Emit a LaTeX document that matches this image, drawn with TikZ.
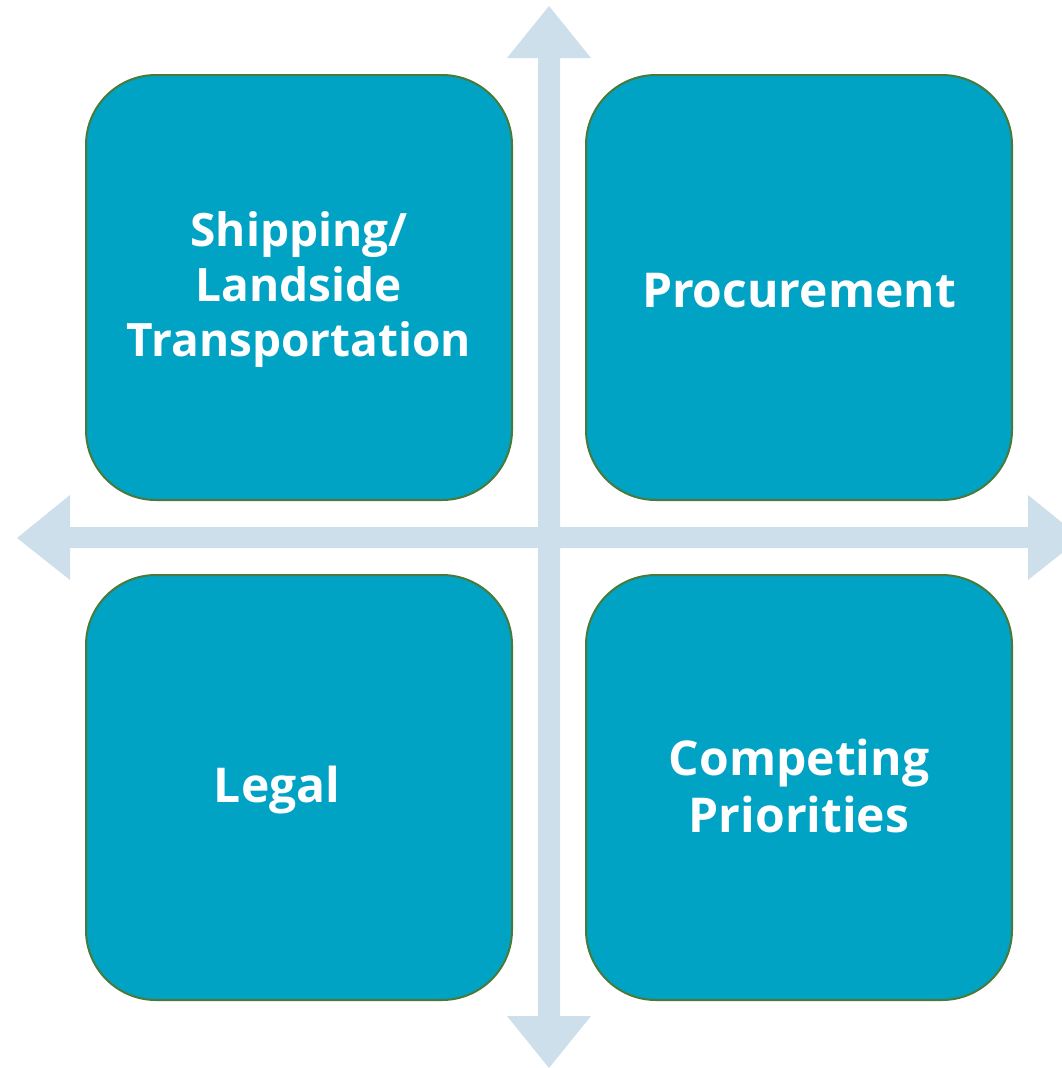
\documentclass[tikz,border=0pt]{standalone}
\usepackage{fontspec}
\setmainfont{Open Sans}
\definecolor{boxfill}{HTML}{00A3C4}
\definecolor{boxline}{HTML}{4A7A3A}
\definecolor{crossfill}{HTML}{CCDFEB}
\begin{document}
\begin{tikzpicture}[x=1pt,y=-1pt,
  quad/.style={draw=boxline, line width=2pt, fill=boxfill, rounded corners=70pt,
    minimum width=426pt, minimum height=425pt, inner sep=0pt},
  qlabel/.style={text=white, font=\fontsize{48}{57}\selectfont\bfseries, align=center, inner sep=0pt}]
\useasboundingbox (0,0) rectangle (1061,1068);
% cross arrows
\fill[crossfill] (70,527) -- (70,495) -- (17,538) -- (70,580) -- (70,548)
  -- (1028,548) -- (1028,580) -- (1081,538) -- (1028,495) -- (1028,527) -- cycle;
\fill[crossfill] (538,58) -- (507,58) -- (549,6) -- (591,58) -- (560,58)
  -- (560,1016) -- (591,1016) -- (549,1068) -- (507,1016) -- (538,1016) -- cycle;
% boxes
\node[quad] (tl) at (299,287.5) {};
\node[quad] (tr) at (799,287.5) {};
\node[quad] (bl) at (299,787.5) {};
\node[quad] (br) at (799,787.5) {};
% labels
\node[qlabel, font=\fontsize{46}{55}\selectfont\bfseries] (tlt) at (299,290) {Shipping/\\Landside\\Transportation};
\node[qlabel] (trt) at (799,291) {Procurement};
\node[qlabel] (blt) at (277,790) {Legal};
\node[qlabel] (brt) at (799,785.5) {Competing\\Priorities};
\end{tikzpicture}
\end{document}
